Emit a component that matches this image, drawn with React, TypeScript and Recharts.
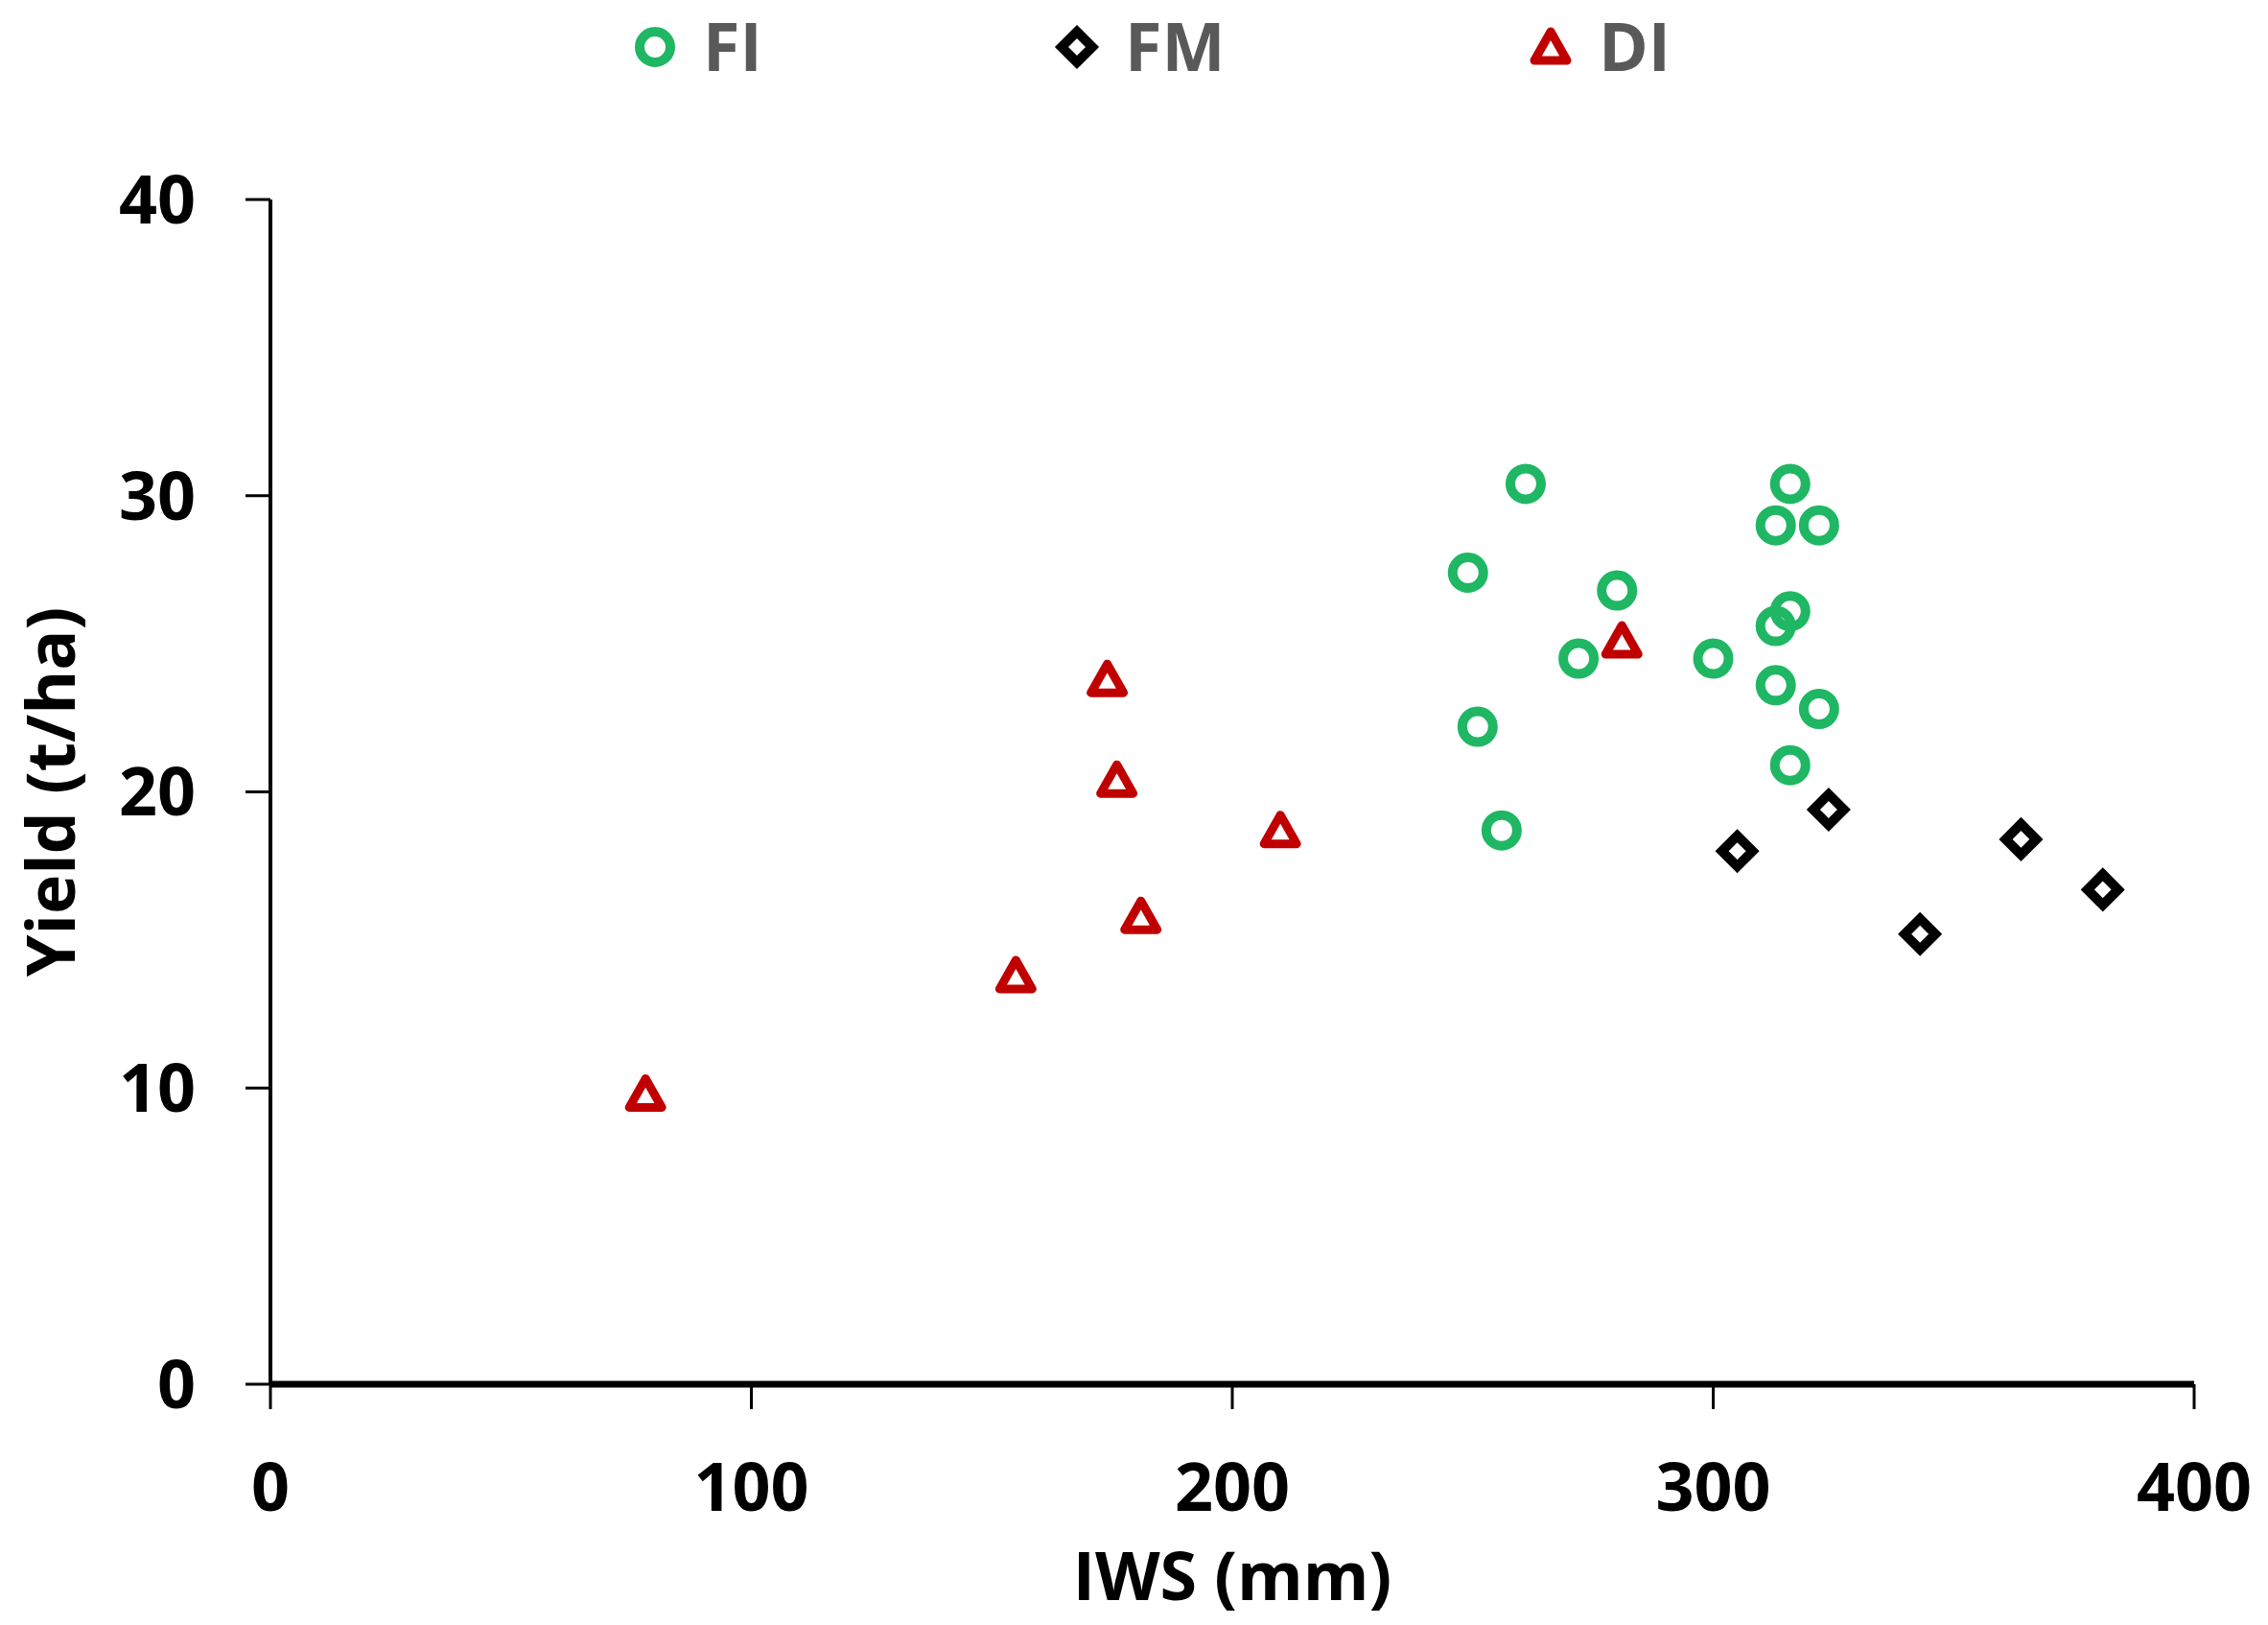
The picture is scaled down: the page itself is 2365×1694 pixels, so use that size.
import { ScatterChart, Scatter, XAxis, YAxis, Legend } from 'recharts';

// IWS (mm) and yield (t/ha) per treatment
const fiIws = [261, 249, 280, 272, 251, 256, 316, 313, 322, 316, 313, 300, 313, 322, 316];
const fiYield = [30.4, 27.4, 26.8, 24.5, 22.2, 18.7, 30.4, 29.0, 29.0, 26.1, 25.6, 24.5, 23.6, 22.8, 20.9];

const fmIws = [305, 324, 343, 364, 381];
const fmYield = [18.0, 19.4, 15.2, 18.4, 16.7];

const diIws = [78, 155, 181, 210, 176, 174, 281];
const diYield = [9.8, 13.8, 15.8, 18.7, 20.4, 23.8, 25.1];

const xTicks = [0, 100, 200, 300, 400];
const yTicks = [0, 10, 20, 30, 40];

const seriesNames = ['FI', 'FM', 'DI'];

const GREEN = '#1fb763';
const RED = '#c00000';
const BLACK = '#000000';
const FONT = '"Open Sans", "DejaVu Sans", sans-serif';

// legend marker centres (px) across the top strip
const legendMarkerX = [683, 1123, 1617];

const toPoints = (xs: number[], ys: number[]) => xs.map((x, i) => ({ x, y: ys[i] }));

const fiData = toPoints(fiIws, fiYield);
const fmData = toPoints(fmIws, fmYield);
const diData = toPoints(diIws, diYield);

const Circle = ({ cx, cy }: any) => (
    <circle cx={cx} cy={cy} r={16} fill="none" stroke={GREEN} strokeWidth={10} />
);

const Diamond = ({ cx, cy }: any) => (
    <path
        d={`M${cx},${cy - 16} L${cx + 16},${cy} L${cx},${cy + 16} L${cx - 16},${cy} Z`}
        fill="none"
        stroke={BLACK}
        strokeWidth={10}
    />
);

const Triangle = ({ cx, cy }: any) => (
    <path
        d={`M${cx},${cy - 16} L${cx + 17},${cy + 14} L${cx - 17},${cy + 14} Z`}
        fill="none"
        stroke={RED}
        strokeWidth={9}
        strokeLinejoin="round"
    />
);

const markerFor = [Circle, Diamond, Triangle];

function LegendContent() {
    return (
        <svg width={2365} height={100} style={{ display: 'block', overflow: 'visible' }}>
            {seriesNames.map((name, i) => {
                const Marker = markerFor[i];
                const mx = legendMarkerX[i];
                return (
                    <g key={name}>
                        <Marker cx={mx} cy={49} />
                        <text
                            x={mx + 50}
                            y={74}
                            fontFamily={FONT}
                            fontWeight={700}
                            fontSize={70}
                            fill="#595959"
                        >
                            {name}
                        </text>
                    </g>
                );
            })}
        </svg>
    );
}

const tickStyle = { fontFamily: FONT, fontWeight: 700, fontSize: 70, fill: BLACK };

export default function App() {
    return (
        <div style={{ position: 'absolute', left: 0, top: 0, width: 2365, height: 1694, background: '#fff' }}>
            <ScatterChart width={2365} height={1694} margin={{ top: 208, right: 77, bottom: 0, left: 0 }}>
                <XAxis
                    type="number"
                    dataKey="x"
                    domain={[0, 400]}
                    ticks={xTicks}
                    height={251}
                    tick={tickStyle}
                    tickSize={26}
                    tickMargin={56}
                    axisLine={{ stroke: BLACK, strokeWidth: 7 }}
                    tickLine={{ stroke: BLACK, strokeWidth: 3 }}
                    label={{
                        value: 'IWS (mm)',
                        position: 'insideBottom',
                        offset: 26,
                        style: { ...tickStyle, textAnchor: 'middle' },
                    }}
                />
                <YAxis
                    type="number"
                    dataKey="y"
                    domain={[0, 40]}
                    ticks={yTicks}
                    width={282}
                    tick={tickStyle}
                    tickSize={26}
                    tickMargin={52}
                    axisLine={{ stroke: BLACK, strokeWidth: 4 }}
                    tickLine={{ stroke: BLACK, strokeWidth: 3 }}
                    label={{
                        value: 'Yield (t/ha)',
                        angle: -90,
                        position: 'insideLeft',
                        offset: 53,
                        style: { ...tickStyle, textAnchor: 'middle' },
                    }}
                />
                <Legend
                    layout="vertical"
                    align="center"
                    verticalAlign="middle"
                    wrapperStyle={{ top: 0, left: 0, width: 2365, height: 100 }}
                    content={<LegendContent />}
                />
                <Scatter name="FI" data={fiData} shape={<Circle />} isAnimationActive={false} />
                <Scatter name="FM" data={fmData} shape={<Diamond />} isAnimationActive={false} />
                <Scatter name="DI" data={diData} shape={<Triangle />} isAnimationActive={false} />
            </ScatterChart>
        </div>
    );
}
